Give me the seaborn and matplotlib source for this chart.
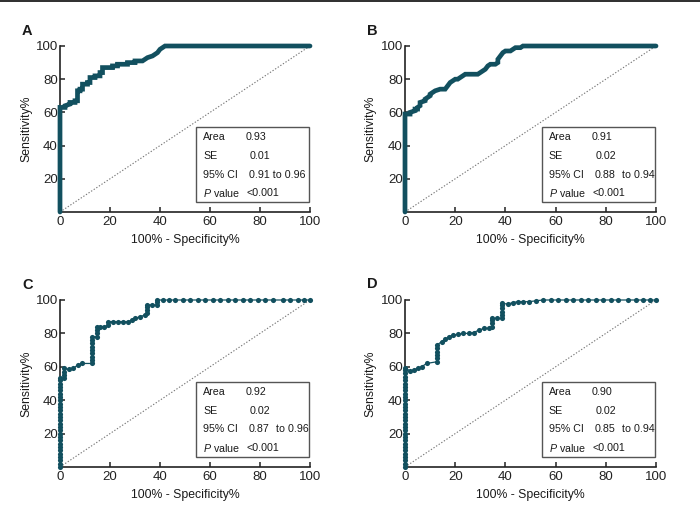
import numpy as np
import pandas as pd
import matplotlib
matplotlib.use("Agg")
import matplotlib.pyplot as plt
from matplotlib.patches import Rectangle
import seaborn as sns

# --- dados: (100% - Especificidade, Sensibilidade) ---
pontos_a = [(0, 0), (0, 63), (2, 63), (2, 64), (4, 65), (4, 66), (6, 66), (6, 67), (7, 67), (7, 73),
            (8, 73), (8, 74), (9, 74), (9, 77), (11, 77), (11, 78), (12, 78), (12, 81), (14, 81),
            (14, 82), (16, 82), (16, 84), (17, 84), (17, 87), (21, 87), (21, 88), (23, 88), (23, 89),
            (27, 89), (27, 90), (30, 90), (30, 91), (33, 91), (34, 92), (35, 93), (37, 94), (38, 95),
            (39, 96), (40, 98), (41, 99), (42, 100), (100, 100)]

pontos_b = [(0, 0), (0, 59), (2, 59), (2, 60), (4, 61), (4, 62), (5, 62), (5, 63), (6, 64), (6, 66),
            (8, 67), (8, 68), (10, 70), (10, 71), (12, 73), (14, 74), (16, 74), (17, 76), (18, 78),
            (19, 79), (20, 80), (21, 80), (22, 81), (23, 82), (24, 83), (28, 83), (29, 83), (30, 84),
            (31, 85), (32, 86), (33, 88), (34, 89), (36, 89), (37, 90), (37, 92), (38, 94), (39, 96),
            (40, 97), (42, 97), (43, 98), (44, 99), (46, 99), (47, 100), (100, 100)]

pontos_c = [(0, 0), (0, 2), (0, 4), (0, 6), (0, 8), (0, 10), (0, 12), (0, 14), (0, 16), (0, 18),
            (0, 20), (0, 22), (0, 24), (0, 26), (0, 28), (0, 30), (0, 32), (0, 34), (0, 36), (0, 38),
            (0, 40), (0, 42), (0, 44), (0, 46), (0, 48), (0, 50), (0, 52), (0, 53),
            (1.5, 53), (1.5, 55), (1.5, 57), (1.5, 59), (3.5, 58.5), (5.3, 59), (7, 61), (8.7, 62),
            (12.7, 62), (12.7, 64), (12.7, 66), (12.7, 68), (12.7, 70), (12.7, 72), (12.7, 74),
            (12.7, 76), (12.7, 78), (14.7, 78), (14.7, 80), (14.7, 82), (14.7, 84), (16, 84),
            (17.7, 84), (19.3, 85), (19.3, 87), (21.3, 87), (23.3, 87), (25.3, 87), (27.3, 87),
            (28.7, 88), (30, 89), (32, 90), (34, 91), (34.7, 92), (34.7, 94), (34.7, 96), (34.7, 97),
            (36.7, 97), (38.7, 97), (38.7, 99), (38.7, 100),
            (41, 100), (43.5, 100), (46, 100), (49, 100), (52, 100), (55, 100), (58, 100), (61, 100),
            (64, 100), (67, 100), (70, 100), (73, 100), (76, 100), (79, 100), (82, 100), (85, 100),
            (89, 100), (92, 100), (95, 100), (97.5, 100), (100, 100)]

pontos_d = [(0, 0), (0, 2), (0, 4), (0, 6), (0, 8), (0, 10), (0, 12), (0, 14), (0, 16), (0, 18),
            (0, 20), (0, 22), (0, 24), (0, 26), (0, 28), (0, 30), (0, 32), (0, 34), (0, 36), (0, 38),
            (0, 40), (0, 42), (0, 44), (0, 46), (0, 48), (0, 50), (0, 52), (0, 54), (0, 56), (0, 58),
            (0, 59.5), (2, 57.5), (3.5, 58), (5, 59), (6.6, 60), (8.6, 62),
            (12.6, 63), (12.6, 65), (12.6, 67), (12.6, 69), (12.6, 71), (12.6, 73), (14.6, 75),
            (16, 76.5), (17.5, 78), (19.3, 79), (21.3, 79.5), (23.3, 80), (25.3, 80), (27.3, 80.5),
            (29.5, 82), (31.5, 83), (33.5, 83), (34.8, 84), (34.8, 86), (34.8, 88), (34.8, 89),
            (36.8, 89), (38.8, 89), (38.8, 91), (38.8, 93), (38.8, 95), (38.8, 97), (38.8, 98),
            (41, 97.5), (43, 98.5), (45, 99), (47, 99), (49.5, 99), (52, 99.5), (55, 100), (58, 100),
            (61, 100), (64, 100), (67, 100), (70, 100), (73, 100), (76, 100), (79, 100), (82, 100),
            (85, 100), (89, 100), (92, 100), (95, 100), (97.5, 100), (100, 100)]

# tabela de estatísticas de cada painel
rotulos = ['A', 'B', 'C', 'D']
areas = ['0.93', '0.91', '0.92', '0.90']
erros = ['0.01', '0.02', '0.02', '0.02']
ic_inf = ['0.91', '0.88', '0.87', '0.85']
ic_sup = ['0.96', '0.94', '0.96', '0.94']
valor_p = ['<0.001'] * 4

x_ticks = [0, 20, 40, 60, 80, 100]
y_ticks = [20, 40, 60, 80, 100]

COR = '#12505f'
TEXTO = '#1a1a1a'

sns.set_style("ticks")
plt.rcParams['font.family'] = ['Liberation Sans', 'DejaVu Sans']
plt.rcParams['mathtext.fontset'] = 'custom'
plt.rcParams['mathtext.rm'] = 'Liberation Sans'
plt.rcParams['mathtext.it'] = 'Liberation Sans:italic'

fig = plt.figure(figsize=(7.0, 5.19), dpi=100)
fig.add_artist(Rectangle((0, 1 - 2 / 519), 1, 2 / 519, transform=fig.transFigure,
                         color='#333333', lw=0))

posicoes = [
    [60 / 700, 1 - 212 / 519, 250 / 700, 166 / 519],
    [405 / 700, 1 - 212 / 519, 251 / 700, 166 / 519],
    [60 / 700, 1 - 467 / 519, 250 / 700, 167 / 519],
    [405 / 700, 1 - 467 / 519, 251 / 700, 167 / 519],
]
letras_pos = [(22, 31), (367, 31), (22, 285), (367, 284)]

curvas = [(pontos_a, False), (pontos_b, False), (pontos_c, True), (pontos_d, True)]

for i, (pts, com_pontos) in enumerate(curvas):
    ax = fig.add_axes(posicoes[i])
    df = pd.DataFrame(pts, columns=['fpr', 'sens'])

    # linha de referência (diagonal)
    ax.plot([0, 100], [0, 100], linestyle=(0, (1.2, 1.6)), color='#777777', lw=0.8, zorder=1)

    if com_pontos:
        sns.lineplot(data=df, x='fpr', y='sens', sort=False, estimator=None, ax=ax,
                     color=COR, lw=0.9, marker='o', markersize=3.7, markeredgewidth=0,
                     zorder=3, clip_on=False)
    else:
        sns.lineplot(data=df, x='fpr', y='sens', sort=False, estimator=None, ax=ax,
                     color=COR, lw=3.4, solid_joinstyle='miter', zorder=3, clip_on=False)

    ax.set_xlim(0, 100)
    ax.set_ylim(0, 100)
    ax.set_xticks(x_ticks)
    ax.set_yticks(y_ticks)
    ax.tick_params(direction='in', length=3.5, width=1.1, labelsize=9.5, colors='#222222')
    ax.tick_params(axis='x', pad=3)
    ax.tick_params(axis='y', pad=1.5)
    for lado in ['left', 'bottom']:
        ax.spines[lado].set_linewidth(1.2)
        ax.spines[lado].set_color('#222222')
    sns.despine(ax=ax)
    ax.set_xlabel('100% - Specificity%', fontsize=8.8, color=TEXTO)
    ax.set_ylabel('Sensitivity%', fontsize=8.8, color=TEXTO)
    ax.xaxis.set_label_coords(0.5, -0.132)
    ax.yaxis.set_label_coords(-0.112, 0.5)

    # caixa com estatísticas
    ax.add_patch(Rectangle((54.5, 6), 45, 45, fill=False, edgecolor='#555555', lw=1.0,
                           zorder=4, clip_on=False))
    linhas_y = [45, 33.5, 22.5, 11.5]
    kw = dict(fontsize=7.7, color=TEXTO, va='center', ha='left', zorder=5)
    ax.text(57.2, linhas_y[0], 'Area', **kw)
    ax.text(57.2, linhas_y[1], 'SE', **kw)
    ax.text(57.2, linhas_y[2], '95% CI', **kw)
    ax.text(57.2, linhas_y[3], r'$\it{P}$ value', **kw)
    ax.text(74.3, linhas_y[0], areas[i], **kw)
    ax.text(75.8, linhas_y[1], erros[i], **kw)
    if i == 0:
        ax.text(75.6, linhas_y[2], f'{ic_inf[i]} to {ic_sup[i]}', **kw)
    else:
        ax.text(75.6, linhas_y[2], ic_inf[i], **kw)
        ax.text(86.3, linhas_y[2], f'to {ic_sup[i]}', **kw)
    ax.text(74.6, linhas_y[3], valor_p[i], **kw)

    lx, ly = letras_pos[i]
    fig.text(lx / 700, 1 - ly / 519, rotulos[i], fontsize=10.5, fontweight='bold',
             color=TEXTO, ha='left', va='center')

fig.savefig('out.png', dpi=100)
